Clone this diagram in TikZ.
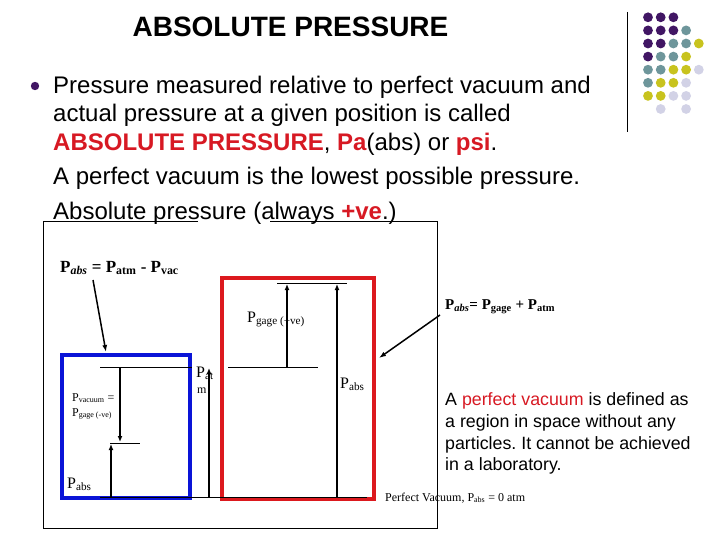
\documentclass[tikz,border=0pt]{standalone}
\usepackage{fontspec}
\setmainfont{Liberation Sans}
\newfontfamily\seriffont{Liberation Serif}
\usetikzlibrary{arrows.meta}
\usepackage{xcolor}
\frenchspacing
\definecolor{txtred}{RGB}{215,25,35}
\definecolor{vacblue}{RGB}{10,20,215}
\definecolor{gagered}{RGB}{220,25,30}
\definecolor{dotP}{RGB}{65,22,100}
\definecolor{dotT}{RGB}{110,150,155}
\definecolor{dotY}{RGB}{200,195,30}
\definecolor{dotL}{RGB}{210,210,230}
\tikzset{
    headline/.style={inner sep=0pt, font=\bfseries\fontsize{28}{32}\selectfont},
    bulletline/.style={anchor=base west, inner sep=0pt, font=\fontsize{24}{28}\selectfont},
    noteline/.style={anchor=base west, inner sep=0pt, font=\fontsize{17.8}{21}\selectfont},
    symlabel/.style={anchor=base west, inner sep=0pt, font=\seriffont\fontsize{16}{18}\selectfont},
    smalllabel/.style={anchor=base west, inner sep=0pt, font=\seriffont\fontsize{12}{14}\selectfont},
    eqlabel/.style={anchor=base west, inner sep=0pt, font=\seriffont\bfseries\fontsize{16}{18}\selectfont},
    level/.style={line width=1pt},
    riser/.style={-{Latex[length=6pt,width=5pt]}, line width=1.5pt},
    pointer/.style={-{Latex[length=7pt,width=5pt]}, line width=1.5pt}
}

\begin{document}
\begin{tikzpicture}[x=1pt, y=-1pt]
    \useasboundingbox (0,0) rectangle (720,540);

    % heading, rule and dot pattern
    \node[headline] (title) at (290.5,27) {ABSOLUTE PRESSURE};
    \coordinate (ruletop) at (627,12);
    \coordinate (rulebot) at (627,132);
    \draw[line width=1pt] (ruletop) -- (rulebot);
    \foreach \cols [count=\r from 0] in {{dotP,dotP,dotP},{dotP,dotP,dotP,dotT},{dotP,dotP,dotT,dotT,dotY},{dotP,dotT,dotT,dotY},{dotT,dotT,dotY,dotY,dotL},{dotT,dotY,dotY,dotL},{dotY,dotY,dotL,dotL},{none,dotL,none,dotL}}
        \foreach \c [count=\k from 0] in \cols
            \path[fill=\c] ({648+12.7*\k},{17.3+13.1*\r}) circle (4.9);

    % bullet text
    \fill[dotP] (35,86) circle (4.2);
    \node[bulletline] (line1) at (53,94) {Pressure measured relative to perfect vacuum and};
    \node[bulletline] (line2) at (53,122) {actual pressure at a given position is called};
    \node[bulletline] (line3) at (53,151) {\textcolor{txtred}{\bfseries ABSOLUTE PRESSURE}, \textcolor{txtred}{\bfseries Pa}(abs) or \textcolor{txtred}{\bfseries psi}.};
    \node[bulletline] (line4) at (53,185) {A perfect vacuum is the lowest possible pressure.};
    \node[bulletline] (line5) at (53,220) {Absolute pressure (always \textcolor{txtred}{\bfseries +ve}.)};

    % frame of the sketch
    \draw[line width=1pt] (198,222) -- (43,222) -- (43,528) -- (437,528) -- (437,222) -- (270,222);

    % boxes
    \draw[vacblue, line width=4.5pt] (62,355) rectangle (190,498);
    \draw[gagered, line width=4.5pt] (222,278) rectangle (374,499);

    % pressure levels
    \coordinate (atmL) at (100,367);
    \coordinate (atmLend) at (192,367);
    \coordinate (atmR) at (228,367);
    \coordinate (atmRend) at (318,367);
    \coordinate (vacL) at (110,443);
    \coordinate (vacLend) at (140,443);
    \coordinate (zeroL) at (100,497);
    \coordinate (zeroR) at (367,497);
    \coordinate (gageL) at (277,283);
    \coordinate (gageR) at (347,283);
    \draw[level] (atmL) -- (atmLend);
    \draw[level] (atmR) -- (atmRend);
    \draw[level] (vacL) -- (vacLend);
    \draw[level] (zeroL) -- (zeroR);
    \draw[level] (gageL) -- (gageR);

    % arrows between levels
    \draw[riser] (120,367) -- (120,442);
    \draw[riser] (111,497) -- (111,444);
    \draw[riser] (209,497) -- (209,368);
    \draw[riser] (287,367) -- (287,284);
    \draw[riser] (337,497) -- (337,284);

    % labels
    \node[eqlabel, font=\seriffont\bfseries\fontsize{17}{19}\selectfont] (eqvac) at (60,272) {P\textsubscript{\itshape abs} = P\textsubscript{atm} - P\textsubscript{vac}};
    \node[eqlabel, font=\seriffont\bfseries\fontsize{15}{18}\selectfont] (eqgage) at (445,309) {P\textsubscript{\itshape abs}= P\textsubscript{gage} + P\textsubscript{atm}};
    \node[smalllabel] (pvac) at (72,401) {P\textsubscript{vacuum} =};
    \node[smalllabel] (pvacb) at (72,416) {P\textsubscript{gage (-ve)}};
    \node[symlabel] (pabsL) at (67,488) {P\textsubscript{abs}};
    \node[symlabel] (patm) at (196,377) {P\textsubscript{at}};
    \node[smalllabel] (patmb) at (197,393) {m};
    \node[symlabel] (pgage) at (247,322) {P\textsubscript{gage (+ve)}};
    \node[symlabel] (pabsR) at (340,388) {P\textsubscript{abs}};
    \node[smalllabel] (pvzero) at (385,501) {Perfect Vacuum, P\textsubscript{abs} = 0 atm};

    % pointers
    \draw[pointer] (93,280) -- (106,352);
    \draw[pointer] (440,315) -- (379,358);

    % note on perfect vacuum
    \node[noteline] (note1) at (445,405) {A \textcolor{txtred}{perfect vacuum} is defined as};
    \node[noteline] (note2) at (445,427) {a region in space without any};
    \node[noteline] (note3) at (445,449) {particles. It cannot be achieved};
    \node[noteline] (note4) at (445,470) {in a laboratory.};
\end{tikzpicture}
\end{document}
